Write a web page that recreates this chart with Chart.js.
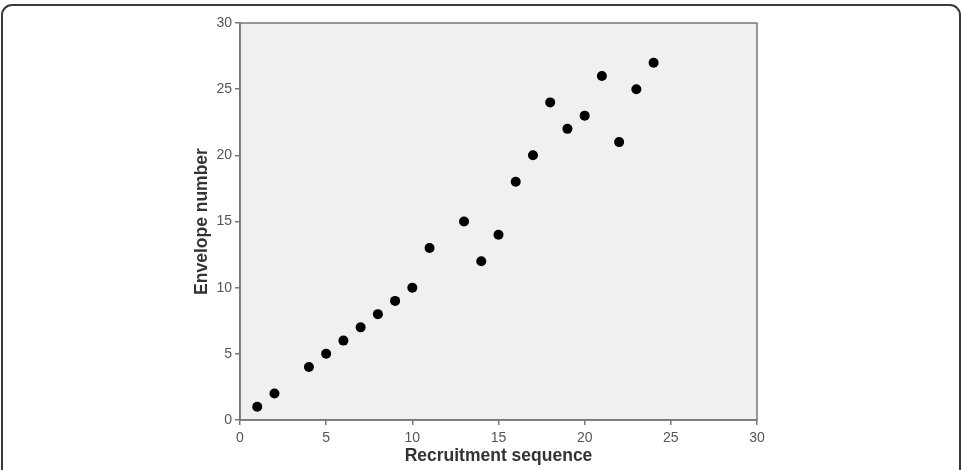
<!DOCTYPE html>
<html>
<head>
<meta charset="utf-8">
<script src="https://cdn.jsdelivr.net/npm/chart.js@4"></script>
<style>
  html, body { margin: 0; padding: 0; background: #fff; overflow: hidden; }
  #wrap { position: relative; width: 963px; height: 470px; }
  #frame {
    position: absolute; left: 1px; top: 4px; width: 960px; height: 490px;
    border: 2px solid #3a3a3a; border-radius: 11px; box-sizing: border-box;
  }
  canvas { position: absolute; left: 0; top: 0; }
</style>
</head>
<body>
<div id="wrap">
  <div id="frame"></div>
  <canvas id="chart" width="963" height="470"></canvas>
</div>
<script>
// recruitment order vs. envelope number
const recruitment = [1, 2, 4, 5, 6, 7, 8, 9, 10, 11, 13, 14, 15, 16, 17, 18, 19, 20, 21, 22, 23, 24];
const envelope    = [1, 2, 4, 5, 6, 7, 8, 9, 10, 13, 15, 12, 14, 18, 20, 24, 22, 23, 26, 21, 25, 27];
const axisTicks = [0, 5, 10, 15, 20, 25, 30];

const points = recruitment.map((x, i) => ({ x: x, y: envelope[i] }));

// grey plot background + frame around the chart area
const plotBox = {
    id: 'plotBox',
    beforeDraw(chart) {
        const { ctx, chartArea: a } = chart;
        ctx.save();
        ctx.fillStyle = '#f0f0f0';
        ctx.fillRect(a.left, a.top, a.right - a.left, a.bottom - a.top);
        ctx.restore();
    },
    afterDatasetsDraw(chart) {
        const { ctx, chartArea: a } = chart;
        ctx.save();
        ctx.strokeStyle = '#777';
        ctx.lineWidth = 1.5;
        ctx.strokeRect(a.left, a.top, a.right - a.left, a.bottom - a.top);
        ctx.restore();
    }
};

const tickStyle = { color: '#555', font: { family: 'Liberation Sans, Arial, sans-serif', size: 14 } };
const titleFont = { family: 'Liberation Sans, Arial, sans-serif', size: 17.5, weight: 'bold' };

new Chart(document.getElementById('chart'), {
    type: 'scatter',
    data: {
        datasets: [{
            data: points,
            pointRadius: 5,
            pointHoverRadius: 5,
            pointBackgroundColor: '#000',
            pointBorderColor: '#000',
            pointBorderWidth: 0
        }]
    },
    options: {
        responsive: false,
        animation: false,
        layout: { padding: { left: 188, top: 23, right: 206, bottom: 1 } },
        plugins: { legend: { display: false }, tooltip: { enabled: false } },
        scales: {
            x: {
                type: 'linear',
                min: 0, max: 30,
                afterBuildTicks: s => { s.ticks = axisTicks.map(v => ({ value: v })); },
                afterFit: s => { s.height = 49; },
                grid: { drawOnChartArea: false, drawTicks: true, tickLength: 5, tickColor: '#777', lineWidth: 1.5 },
                border: { display: true, color: '#777', width: 1.5 },
                ticks: { ...tickStyle, padding: 5, maxRotation: 0 },
                title: { display: true, text: 'Recruitment sequence', color: '#333', font: titleFont, padding: { top: 0, bottom: 2 } }
            },
            y: {
                type: 'linear',
                min: 0, max: 30,
                afterBuildTicks: s => { s.ticks = axisTicks.map(v => ({ value: v })); },
                afterFit: s => { s.width = 52; },
                grid: { drawOnChartArea: false, drawTicks: true, tickLength: 5, tickColor: '#777', lineWidth: 1.5 },
                border: { display: true, color: '#777', width: 1.5 },
                ticks: { ...tickStyle, padding: 3 },
                title: { display: true, text: 'Envelope number', color: '#333', font: titleFont, padding: { top: 4, bottom: 0 } }
            }
        }
    },
    plugins: [plotBox]
});
</script>
</body>
</html>
